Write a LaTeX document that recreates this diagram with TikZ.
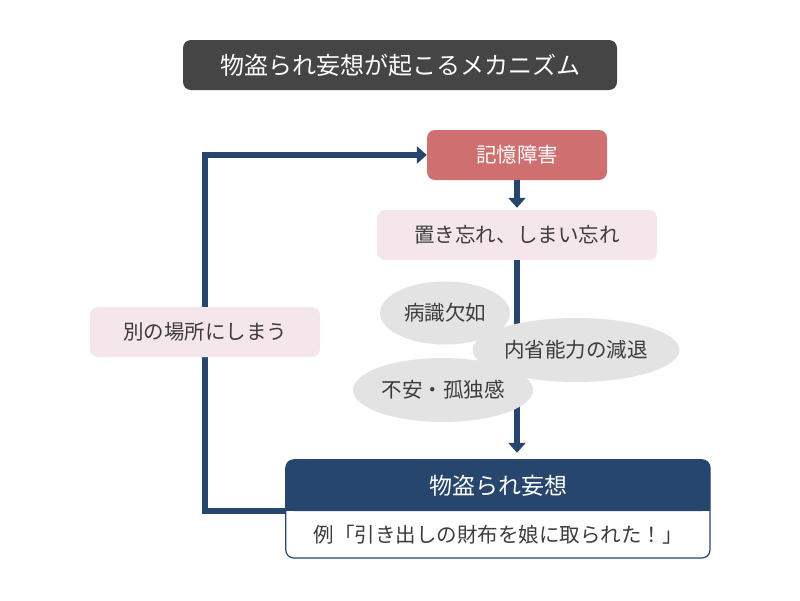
\documentclass[tikz,border=0pt]{standalone}
\usepackage{fontspec}
\setmainfont{Noto Sans CJK JP}
\usepackage{tikz}
\usetikzlibrary{arrows.meta,shapes.geometric,backgrounds}
\definecolor{navy}{HTML}{27466D}
\definecolor{rose}{HTML}{D06F6F}
\definecolor{blush}{HTML}{F5E6EB}
\definecolor{cloud}{HTML}{E3E3E3}
\definecolor{ink}{HTML}{3C3C3C}
\definecolor{slate}{HTML}{454545}

\begin{document}
\begin{tikzpicture}[x=1pt, y=-1pt,
    flow/.style={draw=navy, line width=6, -{Triangle[width=17pt,length=10pt]}},
    titlebox/.style={fill=slate, text=white, rounded corners=8, minimum width=434, minimum height=50, font=\fontsize{24}{28}\selectfont},
    redbox/.style={fill=rose, text=white, rounded corners=8, minimum width=180, minimum height=50, font=\fontsize{20.5}{24}\selectfont},
    pinkbox/.style={fill=blush, text=ink, rounded corners=8, minimum height=50, font=\fontsize{20.5}{24}\selectfont},
    bubble/.style={ellipse, fill=cloud, text=ink, inner sep=0, font=\fontsize{20.5}{24}\selectfont},
    headbox/.style={fill=navy, text=white, rounded corners=8, minimum width=424, minimum height=51, font=\fontsize{23}{27}\selectfont},
    plain/.style={text=ink, font=\fontsize{20.5}{24}\selectfont}]
    \useasboundingbox (0, 0) rectangle (800, 600);

    \node [titlebox] (title) at (400, 65) {物盗られ妄想が起こるメカニズム};

    \node [redbox] (memory) at (517, 155) {記憶障害};
    \node [pinkbox, minimum width=280] (forget) at (517, 235) {置き忘れ、しまい忘れ};
    \draw [flow, shorten >=2] (memory) -- (forget);

    \node [headbox] (delusion) at (498, 485.5) {物盗られ妄想};
    \node [plain] (example) at (498, 535) {例「引き出しの財布を娘に取られた！」};
    \begin{scope}[on background layer]
      \draw [navy, line width=1.2, fill=white, rounded corners=8] (delusion.north west) rectangle (710, 558);
      \fill [navy] (delusion.west) rectangle (delusion.south east);
    \end{scope}

    \draw [flow, shorten >=7] (forget) -- (forget |- delusion.north);

    \node [bubble, minimum width=130, minimum height=63] (insight) at (445, 313) {病識欠如};
    \node [bubble, minimum width=207, minimum height=64] (reflect) at (576, 350) {内省能力の減退};
    \node [bubble, minimum width=180, minimum height=64] (anxiety) at (443, 390) {不安・孤独感};

    \draw [flow] (delusion.south west) -- ++(-81, 0) |- (memory.west);
    \node [pinkbox, minimum width=230] (other) at (205, 332) {別の場所にしまう};
\end{tikzpicture}
\end{document}
